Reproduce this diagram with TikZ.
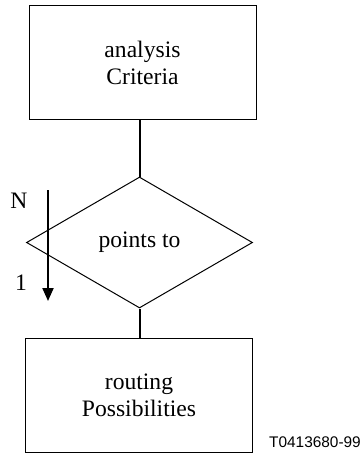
\documentclass[tikz,border=0pt]{standalone}
\usepackage{fontspec}
\setmainfont{Liberation Serif}
\setsansfont{Liberation Sans}
\usetikzlibrary{arrows.meta,shapes.geometric}

\begin{document}
\begin{tikzpicture}[x=0.5pt,y=-0.5pt,
  entity/.style={draw,line width=0.5pt,minimum width=113.5pt,minimum height=57pt,
    align=center,font=\fontsize{11.8}{13.5}\selectfont},
  relship/.style={draw,line width=0.5pt,diamond,inner sep=0pt,aspect=1.7,
    minimum width=113pt,minimum height=65.5pt,font=\fontsize{11.8}{13.5}\selectfont},
  link/.style={line width=1pt},
  card/.style={font=\fontsize{11.8}{13.5}\selectfont,inner sep=0pt},
  dir/.style={-{Triangle[length=6.5pt,width=5.5pt]},line width=1pt},
  tag/.style={font=\sffamily\fontsize{7.7}{9}\selectfont,inner sep=0pt}]
\useasboundingbox (0,0) rectangle (361,455);
\node[entity] (crit) at (142.5,62.5) {analysis\\Criteria};
\node[relship] (pts) at (139.5,242.5) {points to};
\node[entity] (rout) at (139,395) {routing\\Possibilities};
\draw[link] (pts.north) -- (pts.north |- crit.south);
\draw[link] (pts.south) -- (pts.south |- rout.north);
\coordinate (from) at (48,190);
\coordinate (to) at (48,301);
\draw[dir] (from) -- (to);
\node[card] (n) at (19,201) {N};
\node[card] (one) at (21,283) {1};
\node[tag] (ref) at (315,442) {T0413680-99};
\end{tikzpicture}
\end{document}
